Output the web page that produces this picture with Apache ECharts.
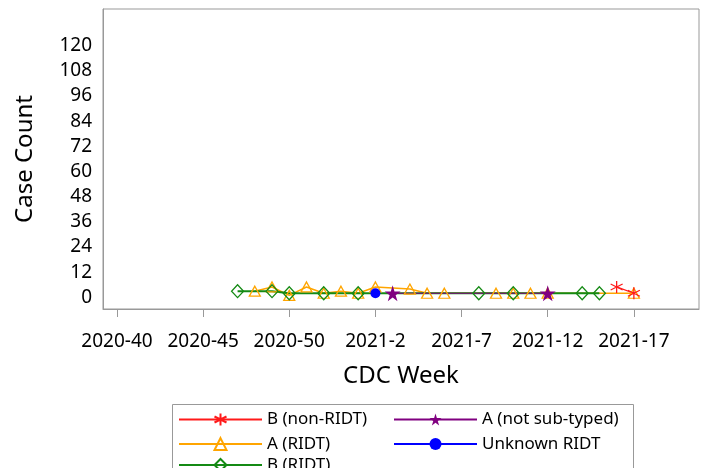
<!DOCTYPE html>
<html>
<head>
<meta charset="utf-8">
<script src="https://cdn.jsdelivr.net/npm/echarts@6/dist/echarts.min.js"></script>
<style>
    html, body { margin: 0; padding: 0; background: #fff; }
    #main { width: 709px; height: 468px; }
</style>
</head>
<body>
<div id="main"></div>
<script>
// CDC week labels on the x axis
var tickWeeks = ['2020-40', '2020-45', '2020-50', '2021-2', '2021-7', '2021-12', '2021-17'];
var yTicks = [0, 12, 24, 36, 48, 60, 72, 84, 96, 108, 120];

// B (non-RIDT)
var bNonWeeks = ['2021-16', '2021-17'];
var bNonCounts = [5, 2];
// A (not sub-typed)
var aNstWeeks = ['2021-3', '2021-12'];
var aNstCounts = [2, 2];
// A (RIDT)
var aRidtWeeks = ['2020-48', '2020-49', '2020-50', '2020-51', '2020-52', '2020-53', '2021-1', '2021-2',
    '2021-4', '2021-5', '2021-6', '2021-9', '2021-10', '2021-11', '2021-12', '2021-17'];
var aRidtCounts = [3, 5, 1, 5, 2, 3, 2, 5, 4, 2, 2, 2, 2, 2, 2, 2];
// Unknown RIDT
var unkWeeks = ['2021-2'];
var unkCounts = [2];
// B (RIDT)
var bRidtWeeks = ['2020-47', '2020-49', '2020-50', '2020-52', '2021-1', '2021-8', '2021-10', '2021-14', '2021-15'];
var bRidtCounts = [3, 3, 2, 2, 2, 2, 2, 2, 2];

// week label -> position (2020 has 53 weeks)
function weekIndex(label) {
    var p = label.split('-');
    var y = +p[0], w = +p[1];
    return y === 2020 ? w - 40 : 13 + w;
}
function toPoints(weeks, counts) {
    return weeks.map(function (w, i) { return [weekIndex(w), counts[i]]; });
}

var tickPos = tickWeeks.map(weekIndex);
var labelOf = {};
tickWeeks.forEach(function (w) { labelOf[weekIndex(w)] = w; });

var asteriskPath = 'path://M10 0 L10 20 M1.3 5 L18.7 15 M1.3 15 L18.7 5';
var starPath = 'path://M50 0 L61 35 L98 35 L68 57 L79 91 L50 70 L21 91 L32 57 L2 35 L39 35 Z';

// legend columns share these settings
function legendCol(left, top, names) {
    return {
        orient: 'vertical',
        left: left,
        top: top,
        padding: 0,
        itemWidth: 83,
        itemHeight: 15,
        itemGap: 7.6,
        textStyle: { fontSize: 17, color: '#000' },
        data: names
    };
}

var myChart = echarts.init(document.getElementById('main'));

var option = {
    animation: false,
    textStyle: { fontFamily: 'Noto Sans' },
    grid: {
        show: true,
        left: 103,
        right: 10,
        top: 9,
        bottom: 159,
        borderColor: '#999',
        borderWidth: 1
    },
    xAxis: {
        type: 'value',
        min: -0.81,
        max: 33.78,
        name: 'CDC Week',
        nameLocation: 'middle',
        nameGap: 55,
        nameTextStyle: { fontSize: 24, color: '#000' },
        axisLine: { onZero: false, lineStyle: { color: '#999' } },
        axisTick: { customValues: tickPos, length: 8, lineStyle: { color: '#999' } },
        axisLabel: {
            customValues: tickPos,
            fontSize: 19,
            color: '#000',
            margin: 23,
            formatter: function (v) { return labelOf[v] || ''; }
        },
        splitLine: { show: false }
    },
    yAxis: {
        type: 'value',
        min: -5.5,
        max: 137.4,
        name: 'Case Count',
        nameLocation: 'middle',
        nameGap: 66,
        nameTextStyle: { fontSize: 24, color: '#000' },
        axisLine: { show: true, onZero: false, lineStyle: { color: '#999' } },
        axisTick: { show: false },
        axisLabel: {
            customValues: yTicks,
            fontSize: 19,
            color: '#000',
            margin: 11
        },
        splitLine: { show: false }
    },
    legend: [
        legendCol(178, 411, ['B (non-RIDT)', 'A (RIDT)']),
        legendCol(178, 456.5, ['B (RIDT)']),
        legendCol(393, 411, ['A (not sub-typed)', 'Unknown RIDT'])
    ],
    graphic: [
        {
            type: 'rect',
            shape: { x: 172.5, y: 404.5, width: 461, height: 80 },
            style: { fill: 'none', stroke: '#999', lineWidth: 1 },
            silent: true
        }
    ],
    series: [
        {
            name: 'A (RIDT)',
            type: 'line',
            data: toPoints(aRidtWeeks, aRidtCounts),
            symbol: 'triangle',
            symbolSize: [11, 10],
            lineStyle: { color: '#ffa500', width: 1.5 },
            itemStyle: { color: 'transparent', borderColor: '#ffa500', borderWidth: 1.3 }
        },
        {
            name: 'B (RIDT)',
            type: 'line',
            data: toPoints(bRidtWeeks, bRidtCounts),
            symbol: 'diamond',
            symbolSize: [12, 13],
            lineStyle: { color: '#148a14', width: 2 },
            itemStyle: { color: 'transparent', borderColor: '#148a14', borderWidth: 1.3 }
        },
        {
            name: 'A (not sub-typed)',
            type: 'line',
            data: toPoints(aNstWeeks, aNstCounts),
            symbol: starPath,
            symbolSize: 16,
            lineStyle: { color: '#800080', width: 1.2 },
            itemStyle: { color: '#800080' }
        },
        {
            name: 'Unknown RIDT',
            type: 'line',
            data: toPoints(unkWeeks, unkCounts),
            symbol: 'circle',
            symbolSize: 10,
            lineStyle: { color: '#0000ff', width: 1.2 },
            itemStyle: { color: '#0000ff' }
        },
        {
            name: 'B (non-RIDT)',
            type: 'line',
            data: toPoints(bNonWeeks, bNonCounts),
            symbol: asteriskPath,
            symbolSize: 12,
            lineStyle: { color: '#ff1a1a', width: 1.3 },
            itemStyle: { color: 'transparent', borderColor: '#ff1a1a', borderWidth: 1.3 }
        }
    ]
};

myChart.setOption(option);
</script>
</body>
</html>
